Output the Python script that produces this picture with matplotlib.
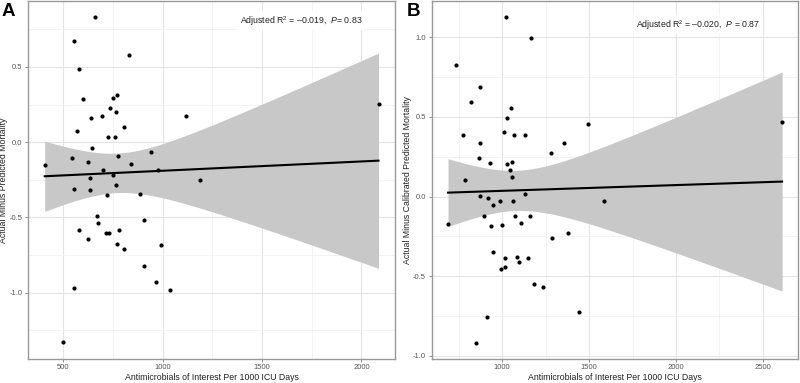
# Residual vs antimicrobial use scatter, two panels with linear fit + 95% CI

import numpy as np
import matplotlib.pyplot as plt

plt.rcParams['font.family'] = ['Liberation Sans', 'DejaVu Sans']
plt.rcParams['mathtext.fontset'] = 'custom'
plt.rcParams['mathtext.rm'] = 'Liberation Sans'
plt.rcParams['mathtext.it'] = 'Liberation Sans:italic'
plt.rcParams['axes.unicode_minus'] = False

# panel A: actual minus predicted mortality
a_x = [659, 555, 582, 833, 600, 753, 771, 736, 768, 694, 642, 1117, 2086, 570,
       806, 724, 759, 647, 407, 545, 627, 778, 940, 843, 699, 977, 749, 634,
       1189, 764, 555, 637, 719, 886, 671, 676, 905, 582, 781, 713, 729, 624,
       773, 992, 806, 906, 965, 555, 1039, 497]
a_y = [0.829, 0.671, 0.485, 0.582, 0.287, 0.292, 0.316, 0.224, 0.200, 0.171,
       0.158, 0.171, 0.255, 0.075, 0.101, 0.036, 0.033, -0.039, -0.153, -0.107,
       -0.132, -0.092, -0.066, -0.147, -0.184, -0.188, -0.221, -0.239, -0.250,
       -0.287, -0.313, -0.318, -0.351, -0.342, -0.489, -0.539, -0.517, -0.583,
       -0.581, -0.603, -0.603, -0.642, -0.678, -0.682, -0.713, -0.820, -0.928,
       -0.971, -0.980, -1.326]

# panel B: actual minus calibrated predicted mortality
b_x = [1020, 1165, 734, 874, 822, 1052, 1029, 1494, 2611, 774, 1011, 1066, 1132,
       874, 1356, 1280, 868, 928, 1029, 1057, 1043, 1054, 784, 1132, 874, 918,
       985, 1061, 1584, 945, 688, 897, 1073, 1159, 933, 998, 1106, 1284, 1379,
       948, 1014, 1084, 1149, 1094, 993, 1014, 1184, 1236, 1441, 910, 847]
b_y = [1.129, 0.998, 0.827, 0.688, 0.594, 0.556, 0.496, 0.458, 0.469, 0.385,
       0.404, 0.389, 0.388, 0.335, 0.339, 0.275, 0.241, 0.210, 0.204, 0.219,
       0.164, 0.123, 0.102, 0.019, 0.004, -0.009, -0.027, -0.029, -0.029,
       -0.052, -0.173, -0.121, -0.123, -0.125, -0.186, -0.179, -0.167, -0.259,
       -0.231, -0.346, -0.388, -0.381, -0.388, -0.413, -0.454, -0.440, -0.552,
       -0.571, -0.727, -0.759, -0.919]

a_note = 'Adjusted R$^2$ = \u20130.019,  $P$= 0.83'
b_note = 'Adjusted R\u00b2 = \u20130.020,  $P$ = 0.87'
xlab = 'Antimicrobials of Interest Per 1000 ICU Days'


def fit_band(x, y):
    x = np.asarray(x, float)
    y = np.asarray(y, float)
    n = len(x)
    b1, b0 = np.polyfit(x, y, 1)
    resid = y - (b0 + b1 * x)
    s = np.sqrt(np.sum(resid ** 2) / (n - 2))
    xs = np.linspace(x.min(), x.max(), 80)
    se = s * np.sqrt(1 / n + (xs - x.mean()) ** 2 / np.sum((x - x.mean()) ** 2))
    t = 2.01  # t(0.975, ~48 df)
    fit = b0 + b1 * xs
    return xs, fit, fit - t * se, fit + t * se


def panel(ax, x, y, xlim, ylim, xt, yt, xminor, yminor, ylab, note, letter, note_xy):
    ax.set_xlim(xlim)
    ax.set_ylim(ylim)
    ax.set_xticks(xt)
    ax.set_yticks(yt)
    ax.set_xticks(xminor, minor=True)
    ax.set_yticks(yminor, minor=True)
    ax.grid(True, which='major', color='#e4e4e4', lw=0.8)
    ax.grid(True, which='minor', color='#eeeeee', lw=0.5)
    ax.set_axisbelow(True)
    ax.tick_params(which='major', length=2.5, width=0.6, color='#777777',
                   labelsize=5.5, labelcolor='#555555', pad=1.5)
    ax.tick_params(which='minor', length=0)
    for sp in ax.spines.values():
        sp.set_color('#999999')
        sp.set_linewidth(1.0)

    xs, fit, lo, hi = fit_band(x, y)
    ax.fill_between(xs, lo, hi, color='#c8c8c8', lw=0, zorder=2)
    ax.plot(xs, fit, color='black', lw=1.5, zorder=3)
    ax.scatter(x, y, s=9, color='black', zorder=4, linewidths=0)

    ax.set_xlabel(xlab, fontsize=6.3, color='#222222', labelpad=1)
    ax.set_ylabel(ylab, fontsize=6.3, color='#222222', labelpad=1)
    ax.text(note_xy[0], note_xy[1], note, transform=ax.transAxes, fontsize=6.3,
            ha='center', va='center', color='#222222', zorder=5,
            bbox=dict(facecolor='white', edgecolor='none', pad=2))
    ax.text(-0.072 if letter == 'A' else -0.068, 0.993, letter, transform=ax.transAxes,
            fontsize=13.5, fontweight='bold', ha='left', va='top')


fig = plt.figure(figsize=(8, 3.83), dpi=100)
ax1 = fig.add_axes([0.035, 0.063, 0.459, 0.935])
ax2 = fig.add_axes([0.5396, 0.063, 0.458, 0.935])

panel(ax1, a_x, a_y, (323, 2170), (-1.44, 0.94),
      [500, 1000, 1500, 2000], [-1.0, -0.5, 0.0, 0.5],
      [750, 1250, 1750], [-1.25, -0.75, -0.25, 0.25, 0.75],
      'Actual Minus Predicted Mortality', a_note, 'A', (0.744, 0.944))
panel(ax2, b_x, b_y, (594, 2703), (-1.02, 1.23),
      [1000, 1500, 2000, 2500], [-1.0, -0.5, 0.0, 0.5, 1.0],
      [750, 1250, 1750, 2250], [-0.75, -0.25, 0.25, 0.75],
      'Actual Minus Calibrated Predicted Mortality', b_note, 'B', (0.727, 0.933))

fig.savefig('out.png', dpi=100)
